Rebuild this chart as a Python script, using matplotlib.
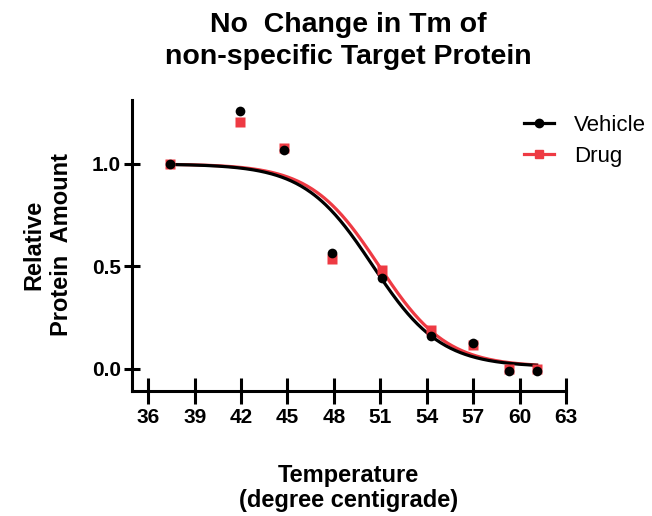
import numpy as np
import matplotlib
matplotlib.use("Agg")
import matplotlib.pyplot as plt
from matplotlib.lines import Line2D

plt.rcParams['font.family'] = ['Liberation Sans', 'DejaVu Sans']

# ---- data ----
temps = [37.4, 41.9, 44.8, 47.9, 51.1, 54.3, 57.0, 59.3, 61.1]
vehicle = [1.0, 1.26, 1.066, 0.566, 0.445, 0.16, 0.125, -0.01, -0.01]
drug = [1.0, 1.207, 1.08, 0.535, 0.485, 0.19, 0.117, 0.0, 0.0]

# Boltzmann fit parameters (top, bottom, Tm, slope)
fit_vehicle = (1.0, 0.01, 50.5, 2.2)
fit_drug = (1.0, 0.01, 50.9, 2.2)

x_ticks = [36, 39, 42, 45, 48, 51, 54, 57, 60, 63]
y_ticks = [0.0, 0.5, 1.0]
y_tick_labels = ["0.0", "0.5", "1.0"]

black = "#000000"
red = "#EE3A43"


def boltzmann(x, p):
    top, bottom, v50, slope = p
    return bottom + (top - bottom) / (1 + np.exp((x - v50) / slope))


fig = plt.figure(figsize=(6.52, 5.16), dpi=100)
ax = fig.add_axes([132.3 / 652, 1 - 390.7 / 516, (566 - 132.3) / 652, (390.7 - 100) / 516])

xs = np.linspace(min(temps), max(temps), 300)
ax.plot(xs, boltzmann(xs, fit_drug), color=red, lw=2.3, zorder=2)
ax.plot(xs, boltzmann(xs, fit_vehicle), color=black, lw=2.3, zorder=3)
ax.plot(temps, drug, 's', color=red, ms=6.5, mec='none', zorder=4)
ax.plot(temps, vehicle, 'o', color=black, ms=7, mec='none', zorder=5)

ax.set_xlim(34.97, 63)
ax.set_ylim(-0.106, 1.312)
ax.set_xticks(x_ticks)
ax.set_yticks(y_ticks)
ax.set_yticklabels(y_tick_labels)

for s in ['top', 'right']:
    ax.spines[s].set_visible(False)
for s in ['left', 'bottom']:
    ax.spines[s].set_linewidth(2.2)

ax.tick_params(axis='x', direction='inout', length=19, width=2.2, pad=3,
               labelsize=15)
ax.tick_params(axis='y', direction='inout', length=12, width=2.2, pad=2,
               labelsize=15)
for lab in ax.get_xticklabels() + ax.get_yticklabels():
    lab.set_fontweight('bold')

handles = [
    Line2D([], [], color=black, lw=2.3, marker='o', ms=6),
    Line2D([], [], color=red, lw=2.3, marker='s', ms=5.5),
]
fig.legend(handles, ["Vehicle", "Drug"], loc='upper left',
           bbox_to_anchor=(504 / 652, 1 - 95 / 516), frameon=False,
           fontsize=16, handlelength=1.35, handletextpad=0.9, labelspacing=0.45)

fig.text(348 / 652, 1 - 41 / 516, "No  Change in Tm of\nnon-specific Target Protein",
         ha='center', va='center', fontsize=20.5, fontweight='bold', linespacing=1.35)
fig.text(47.5 / 652, 1 - 245 / 516, "Relative\nProtein  Amount", rotation=90,
         ha='center', va='center', fontsize=17, fontweight='bold',
         multialignment='center', linespacing=1.25)
fig.text(348.5 / 652, 1 - 488 / 516, "Temperature\n(degree centigrade)",
         ha='center', va='center', fontsize=17, fontweight='bold',
         multialignment='center', linespacing=1.1)

fig.savefig("out.png", dpi=100)
